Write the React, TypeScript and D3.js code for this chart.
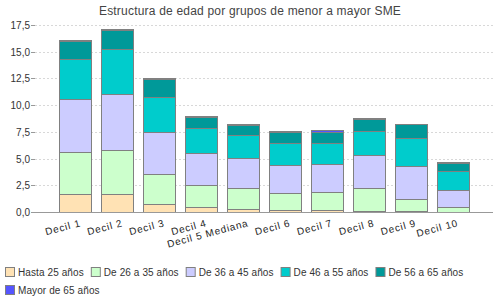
import React, { useEffect, useRef } from 'react';
import * as d3 from 'd3';

// deciles de salario (SME)
const categories = ['Decil 1', 'Decil 2', 'Decil 3', 'Decil 4', 'Decil 5 Mediana', 'Decil 6', 'Decil 7', 'Decil 8', 'Decil 9', 'Decil 10'];
const seriesNames = ['Hasta 25 años', 'De 26 a 35 años', 'De 36 a 45 años', 'De 46 a 55 años', 'De 56 a 65 años', 'Mayor de 65 años'];
const colors = ['#ffe2b4', '#ccffcc', '#ccccff', '#00cccc', '#009999', '#5555ff'];

const hasta25 = [1.68, 1.68, 0.75, 0.47, 0.28, 0.19, 0.19, 0.09, 0.09, 0.02];
const de26a35 = [3.98, 4.08, 2.8, 2.05, 1.93, 1.59, 1.68, 2.15, 1.12, 0.45];
const de36a45 = [4.9, 5.32, 3.98, 2.96, 2.89, 2.61, 2.62, 3.09, 3.09, 1.59];
const de46a55 = [3.74, 4.15, 3.22, 2.37, 2.1, 2.06, 1.96, 2.24, 2.64, 1.77];
const de56a65 = [1.68, 1.83, 1.68, 1.03, 0.96, 1.08, 1.08, 1.18, 1.28, 0.75];
const mayor65 = [0.1, 0.1, 0.09, 0.09, 0.1, 0.07, 0.1, 0.06, 0.02, 0.09];

const yTicks = [0, 2.5, 5, 7.5, 10, 12.5, 15, 17.5];

const App = () => {
  const svgRef = useRef();

  useEffect(() => {
    const svg = d3.select(svgRef.current);
    svg.selectAll('*').remove();

    const font = '"Liberation Sans", Arial, sans-serif';
    const left = 35, right = 493, top = 25, bottom = 212;

    const rows = categories.map((c, i) => {
      const r = { cat: c };
      [hasta25, de26a35, de36a45, de46a55, de56a65, mayor65].forEach((s, k) => (r[seriesNames[k]] = s[i]));
      return r;
    });
    const stacked = d3.stack().keys(seriesNames)(rows);

    const x = d3.scaleBand().domain(categories).range([left, right]).paddingInner(0.238).paddingOuter(0.58);
    const y = d3.scaleLinear().domain([0, 17.5]).range([bottom, top]);
    const fmt = (v) => d3.format('.1f')(v).replace('.', ',');

    svg.append('rect').attr('width', 500).attr('height', 300).attr('fill', '#fff');

    svg
      .append('text')
      .attr('x', 250)
      .attr('y', 15)
      .attr('text-anchor', 'middle')
      .attr('font-family', font)
      .attr('font-size', 12)
      .attr('letter-spacing', 0.2)
      .attr('fill', '#444')
      .text('Estructura de edad por grupos de menor a mayor SME');

    // grid + y ticks
    const g = svg.append('g');
    yTicks.forEach((t) => {
      const yy = Math.round(y(t)) + 0.5;
      if (t > 0)
        g.append('line').attr('x1', left).attr('x2', right).attr('y1', yy).attr('y2', yy)
          .attr('stroke', '#d8d8d8').attr('stroke-dasharray', '2,2');
      g.append('line').attr('x1', left - 4).attr('x2', left).attr('y1', yy).attr('y2', yy).attr('stroke', '#999');
      g.append('text').attr('x', 30).attr('y', yy + 3.5).attr('text-anchor', 'end')
        .attr('font-family', font).attr('font-size', 10).attr('fill', '#333').text(fmt(t));
    });

    // bars
    stacked.forEach((layer, k) => {
      svg
        .append('g')
        .selectAll('rect')
        .data(layer)
        .enter()
        .append('rect')
        .attr('x', (d) => Math.round(x(d.data.cat)) + 0.5)
        .attr('y', (d) => Math.round(y(d[1])) + 0.5)
        .attr('width', Math.round(x.bandwidth()))
        .attr('height', (d) => Math.max(0, Math.round(y(d[0])) - Math.round(y(d[1]))))
        .attr('fill', colors[k])
        .attr('stroke', '#808080')
        .attr('stroke-width', 1);
    });

    // x axis line
    svg.append('line').attr('x1', left).attr('x2', right).attr('y1', bottom + 0.5).attr('y2', bottom + 0.5).attr('stroke', '#999');

    categories.forEach((c) => {
      const cx = x(c) + x.bandwidth() / 2;
      svg
        .append('text')
        .attr('transform', `translate(${cx + 6},${226}) rotate(-15)`)
        .attr('text-anchor', 'end')
        .attr('font-family', font)
        .attr('font-size', 10)
        .attr('letter-spacing', 0.8)
        .attr('fill', '#222')
        .text(c);
    });

    // legend
    const leg = svg.append('g');
    let lx = 5, ly = 272;
    seriesNames.forEach((name, k) => {
      const item = leg.append('g');
      item.append('rect').attr('x', 0.5).attr('y', -4.5).attr('width', 9).attr('height', 9)
        .attr('fill', colors[k]).attr('stroke', '#808080');
      const t = item.append('text').attr('x', 13).attr('y', 3.5).attr('font-family', font)
        .attr('font-size', 10).attr('letter-spacing', 0.1).attr('fill', '#333').text(name);
      const w = 13 + t.node().getComputedTextLength() + 7;
      if (lx + w > 495) { lx = 5; ly += 18; }
      item.attr('transform', `translate(${lx},${ly})`);
      lx += w;
    });
  }, []);

  return <svg ref={svgRef} width={500} height={300} style={{ position: 'absolute', left: 0, top: 0 }}></svg>;
};

export default App;
